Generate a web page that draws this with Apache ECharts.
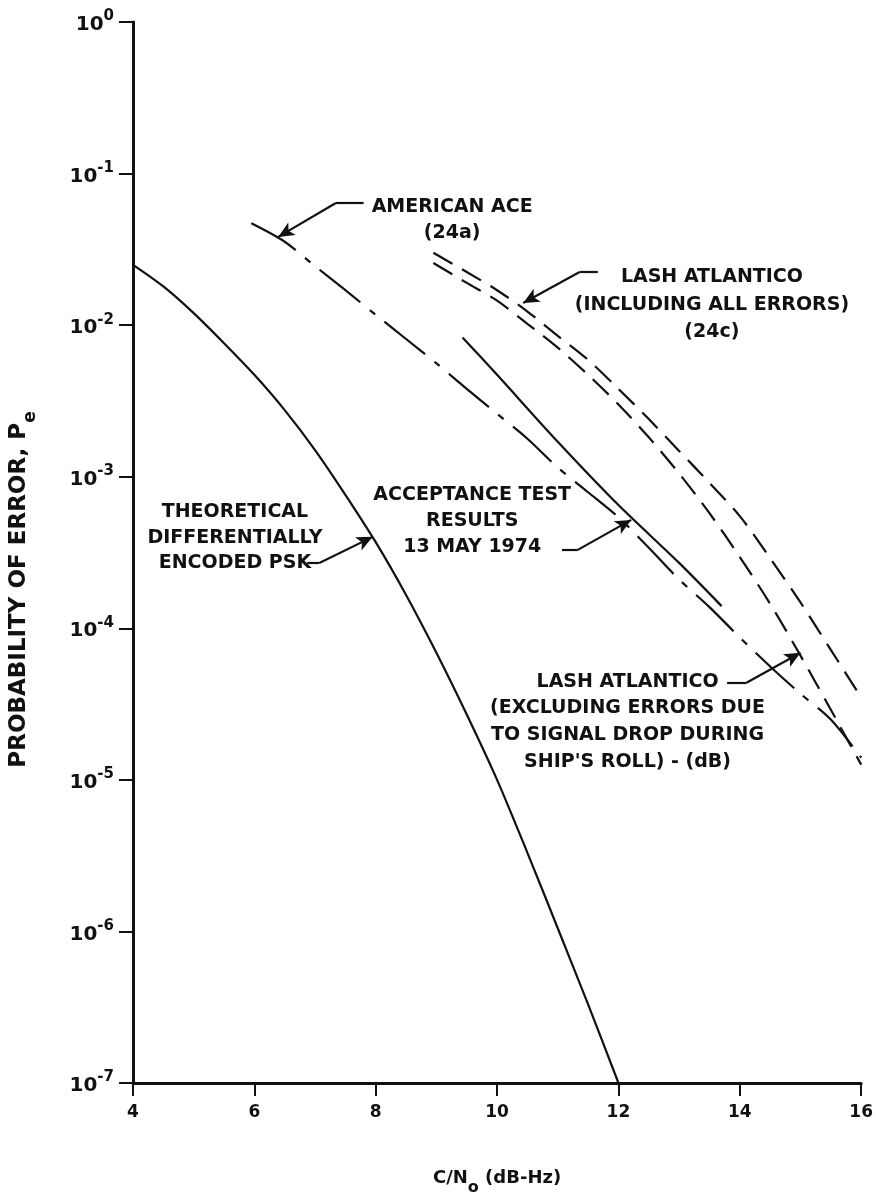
<!DOCTYPE html>
<html><head><meta charset="utf-8">
<script src="https://cdn.jsdelivr.net/npm/echarts@6/dist/echarts.min.js"></script>
<style>html,body{margin:0;padding:0;background:#fff}#c{width:876px;height:1202px}</style>
</head><body><div id="c"></div>
<script>
// ---- data ----
const xTicks = [4, 6, 8, 10, 12, 14, 16];
const yExponents = ['0', '-1', '-2', '-3', '-4', '-5', '-6', '-7'];

const theoX  = [4, 4.5, 5, 5.5, 6, 6.5, 7, 7.5, 8, 8.5, 9, 9.5, 10, 10.5, 11, 11.5, 12];
const theoPe = [2.5e-2, 1.8e-2, 1.2e-2, 7.6e-3, 4.7e-3, 2.75e-3, 1.5e-3, 7.6e-4, 3.7e-4, 1.66e-4, 6.9e-5, 2.7e-5, 1.0e-5, 3.3e-6, 1.05e-6, 3.3e-7, 1.0e-7];

const aceX  = [5.95, 6.5, 7, 7.5, 8, 8.5, 9, 9.5, 10, 10.5, 11, 11.5, 12, 12.5, 13, 13.5, 14, 14.5, 15, 15.5, 16];
const acePe = [4.7e-2, 3.55e-2, 2.45e-2, 1.7e-2, 1.17e-2, 8.1e-3, 5.6e-3, 3.8e-3, 2.6e-3, 1.78e-3, 1.15e-3, 7.9e-4, 5.4e-4, 3.4e-4, 2.1e-4, 1.38e-4, 8.7e-5, 5.6e-5, 3.7e-5, 2.5e-5, 1.4e-5];

const accX  = [9.43, 10, 11, 12, 13, 13.7];
const accPe = [8.3e-3, 4.7e-3, 1.7e-3, 6.5e-4, 2.7e-4, 1.4e-4];

const lashX     = [8.95, 9.5, 10, 10.5, 11, 11.5, 12, 12.5, 13, 13.5, 14, 14.5, 15, 15.5, 16];
const lashAllPe = [3.0e-2, 2.24e-2, 1.7e-2, 1.23e-2, 8.5e-3, 5.9e-3, 3.8e-3, 2.4e-3, 1.48e-3, 9.1e-4, 5.5e-4, 2.9e-4, 1.48e-4, 7.2e-5, 3.5e-5];
const lashExPe  = [2.57e-2, 1.9e-2, 1.45e-2, 1.02e-2, 7.1e-3, 4.7e-3, 3.0e-3, 1.82e-3, 1.05e-3, 5.75e-4, 2.95e-4, 1.45e-4, 6.6e-5, 2.9e-5, 1.26e-5];

// annotation texts (anchor = block centre, in data units)
const annotations = [
  { lines: ['AMERICAN ACE', '(24a)'], at: [9.26, 0.0494], lh: 26 },
  { lines: ['LASH ATLANTICO', '(INCLUDING ALL ERRORS)', '(24c)'], at: [13.54, 0.0136], lh: 27.5 },
  { lines: ['ACCEPTANCE TEST', 'RESULTS', '13 MAY 1974'], at: [9.59, 5.13e-4], lh: 26 },
  { lines: ['THEORETICAL', 'DIFFERENTIALLY', 'ENCODED PSK'], at: [5.68, 3.94e-4], lh: 25.5 },
  { lines: ['LASH ATLANTICO', '(EXCLUDING ERRORS DUE', 'TO SIGNAL DROP DURING', "SHIP'S ROLL) - (dB)"], at: [12.15, 2.42e-5], lh: 26.7 }
];
// leader lines: [start, bend, arrow tip] in data units
const leaders = [
  [[7.80, 0.0640], [7.344, 0.0640], [6.393, 0.0382]],
  [[11.66, 0.02244], [11.36, 0.02244], [10.43, 0.0140]],
  [[11.07, 3.29e-4], [11.33, 3.29e-4], [12.21, 5.19e-4]],
  [[6.87, 2.70e-4], [7.07, 2.70e-4], [7.95, 4.01e-4]],
  [[13.79, 4.37e-5], [14.11, 4.37e-5], [15.0, 6.89e-5]]
];

// ---- chart ----
const FONT = 'DejaVu Sans';
const INK = '#111';
const zip = (xs, ys) => xs.map((x, i) => [x, ys[i]]);

const markData = [];
leaders.forEach(l => {
  markData.push([{ coord: l[0], symbol: 'none' }, { coord: l[1], symbol: 'none' }]);
  markData.push([{ coord: l[1], symbol: 'none' }, { coord: l[2], symbol: 'arrow', symbolSize: [11, 16] }]);
});

const baseLine = (name, data, type, extra) => Object.assign({
  name, type: 'line', data, showSymbol: false, smooth: 0.3,
  animation: false, silent: true,
  lineStyle: { color: INK, width: 2.2, type: type, cap: 'butt' }
}, extra || {});

const chart = echarts.init(document.getElementById('c'), null, { renderer: 'canvas' });
chart.setOption({
  backgroundColor: '#fff',
  animation: false,
  grid: { left: 131, right: 13, top: 22, bottom: 119, containLabel: false },
  xAxis: {
    type: 'value', min: 4, max: 16, interval: 2,
    axisLine: { lineStyle: { color: INK, width: 3 } },
    axisTick: { show: true, length: 13, lineStyle: { color: INK, width: 2 } },
    splitLine: { show: false },
    axisLabel: { margin: 21, color: INK, fontFamily: FONT, fontWeight: 'bold', fontSize: 17,
      formatter: v => xTicks.includes(v) ? String(v) : '' },
    name: '{m|C/N}{s|o}{m| (dB-Hz)}', nameLocation: 'middle', nameGap: 86,
    nameTextStyle: { color: INK, fontFamily: FONT, fontWeight: 'bold',
      rich: { m: { fontSize: 18, fontFamily: FONT, fontWeight: 'bold', color: INK, padding: [0, 0, 9, 0], verticalAlign: 'bottom' },
              s: { fontSize: 16, fontFamily: FONT, fontWeight: 'bold', color: INK, verticalAlign: 'bottom' } } }
  },
  yAxis: {
    type: 'log', logBase: 10, min: 1e-7, max: 1, splitNumber: 7,
    axisLine: { lineStyle: { color: INK, width: 3 } },
    axisTick: { show: true, length: 14, lineStyle: { color: INK, width: 2 } },
    minorTick: { show: false },
    splitLine: { show: false },
    axisLabel: { margin: 19, color: INK,
      formatter: v => { const e = Math.round(Math.log10(v)); return '{b|10}{s|' + yExponents[-e] + '}'; },
      rich: { b: { fontSize: 20, fontFamily: FONT, fontWeight: 'bold', color: INK, verticalAlign: 'bottom' },
              s: { fontSize: 15, fontFamily: FONT, fontWeight: 'bold', color: INK, verticalAlign: 'bottom', padding: [0, 0, 11, 0] } } },
    name: '{m|PROBABILITY OF ERROR, P}{s|e}', nameLocation: 'middle', nameGap: 94, nameRotate: 90,
    nameTextStyle: { color: INK, padding: [0, 74, 0, 0],
      rich: { m: { fontSize: 23, fontFamily: FONT, fontWeight: 'bold', color: INK, padding: [0, 0, 8, 0], verticalAlign: 'bottom' },
              s: { fontSize: 17, fontFamily: FONT, fontWeight: 'bold', color: INK, verticalAlign: 'bottom' } } }
  },
  series: [
    baseLine('Theoretical differentially encoded PSK', zip(theoX, theoPe), 'solid'),
    baseLine('American Ace (24a)', zip(aceX, acePe), [52, 12, 7, 12], {
      markLine: { silent: true, animation: false, symbol: ['none', 'none'], label: { show: false },
        lineStyle: { color: INK, width: 2.2, type: 'solid' }, data: markData }
    }),
    baseLine('Acceptance test results 13 May 1974', zip(accX, accPe), 'solid'),
    baseLine('Lash Atlantico including all errors (24c)', zip(lashX, lashAllPe), [22, 11]),
    baseLine('Lash Atlantico excluding roll errors', zip(lashX, lashExPe), [22, 11])
  ]
});

// annotation texts positioned from data coordinates
const graphics = annotations.map(a => {
  const p = chart.convertToPixel({ xAxisIndex: 0, yAxisIndex: 0 }, a.at);
  return { type: 'text', x: p[0], y: p[1], silent: true,
    style: { text: a.lines.join('\n'), align: 'center', verticalAlign: 'middle', lineHeight: a.lh,
      font: 'bold 19px "DejaVu Sans"', fill: INK } };
});
chart.setOption({ graphic: graphics });
</script></body></html>
